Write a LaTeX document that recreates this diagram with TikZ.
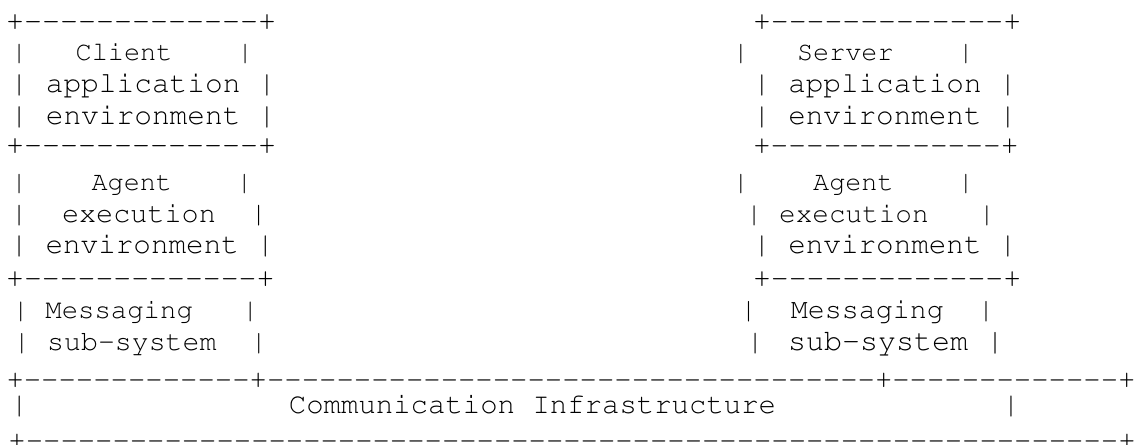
\documentclass[tikz,border=0pt]{standalone}
\usepackage[T1]{fontenc}
\usepackage{courier}
\usepackage{tikz}
\tikzset{ascii/.style={anchor=base west, inner sep=0pt, font=\fontsize{#1}{#1}\selectfont\ttfamily}}
\newcommand{\dashrun}[1]{\foreach \k in {1,...,#1}{-\kern0pt}}

\begin{document}
\begin{tikzpicture}[x=1pt, y=-1pt]
	\useasboundingbox (0,0) rectangle (1134,444);

% CLIENT

	\node[ascii=30]   (l1)  at (6,31)     {+\dashrun{13}+};
	\node[ascii=26.9] (l2)  at (10.9,60)  {|~~~Client~~~~|};
	\node[ascii=29.5] (l3)  at (10.2,92.5){|~application~|};
	\node[ascii=29.5] (l4)  at (10.2,124) {|~environment~|};
	\node[ascii=30]   (l5)  at (6,154)    {+\dashrun{13}+};
	\node[ascii=26.8] (l6)  at (11,190)   {|~~~~Agent~~~~|};
	\node[ascii=28.5] (l7)  at (10.5,222.5){|~~execution~~|};
	\node[ascii=29.3] (l8)  at (10.2,253) {|~environment~|};
	\node[ascii=29.8] (l9)  at (6,287)    {+\dashrun{13}+};
	\node[ascii=27.3] (l10) at (12.5,318) {|~Messaging~~~|};
	\node[ascii=28.2] (l11) at (13.2,350) {|~sub-system~~|};

% SERVER

	\node[ascii=29.8] (r1)  at (752.8,31)  {+\dashrun{13}+};
	\node[ascii=26.8] (r2)  at (732.6,60)  {|~~~Server~~~~|};
	\node[ascii=29.3] (r3)  at (752.9,92.5){|~application~|};
	\node[ascii=29.3] (r4)  at (752.9,124) {|~environment~|};
	\node[ascii=29.5] (r5)  at (752.8,154) {+\dashrun{13}+};
	\node[ascii=26.8] (r6)  at (732.6,190) {|~~~~Agent~~~~|};
	\node[ascii=27.7] (r7)  at (745.7,222.5){|~execution~~~|};
	\node[ascii=29.3] (r8)  at (752.9,253) {|~environment~|};
	\node[ascii=29.8] (r9)  at (752.8,287) {+\dashrun{13}+};
	\node[ascii=28.3] (r10) at (739.8,318) {|~~Messaging~~|};
	\node[ascii=28.6] (r11a) at (746.4,350) {|};
	\node[ascii=30]   (r11) at (788,350)   {sub-system~|};

% INFRASTRUCTURE

	\node[ascii=28.95] (b1)   at (6.3,388) {+\dashrun{13}+\dashrun{35}+\dashrun{13}+};
	\node[ascii=29]    (comm) at (10.3,413) {|~~~~~~~~~~~~~~~Communication~Infrastructure~~~~~~~~~~~~~|};
	\node[ascii=28.9]  (b2)   at (8.3,449) {+\dashrun{63}+};

\end{tikzpicture}
\end{document}
